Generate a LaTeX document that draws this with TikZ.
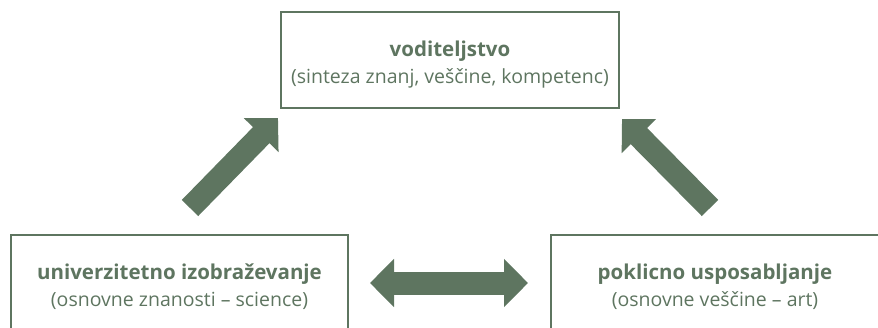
\documentclass[tikz,border=0pt]{standalone}
\usepackage{fontspec}
\setmainfont{Open Sans}
\usetikzlibrary{arrows.meta,calc,positioning}
\definecolor{sivozelena}{RGB}{94,117,96}
\tikzset{
	blok/.style={draw=sivozelena, line width=2pt, text=sivozelena, align=center,
		minimum height=96pt, inner sep=0pt,
		font=\fontsize{19.5}{27}\selectfont},
	puscica/.style={draw=sivozelena, line width=23pt, -{Triangle[length=24pt,width=47pt]}},
	dvojna puscica/.style={draw=sivozelena, line width=23pt,
		{Triangle[length=24pt,width=47pt]}-{Triangle[length=24pt,width=47pt]}}
}
\newcommand{\naslov}[2]{{\fontsize{20.5}{27}\selectfont\bfseries\rule{0pt}{24pt}#1}\\#2}

\begin{document}
\begin{tikzpicture}[x=1pt,y=-1pt]
  \useasboundingbox (0,0) rectangle (878,327);
  \clip (0,0) rectangle (878,327);
  \node [blok, minimum width=338pt] (vod) at (450,60)
    {\naslov{voditeljstvo}{(sinteza znanj, veščine, kompetenc)}};
  \node [blok, minimum width=337pt] (uni) at (179.5,283)
    {\naslov{univerzitetno izobraževanje}{(osnovne znanosti – science)}};
  \node [blok, minimum width=328pt] (pok) at (715,283)
    {\naslov{poklicno usposabljanje}{(osnovne veščine – art)}};
  % puscice
  \coordinate (uniRep) at ($(uni.north)+(10.5,-26)$);
  \coordinate (vodL) at ($(vod.south west)+(-2,9)$);
  \coordinate (pokRep) at ($(pok.north)+(-5,-26)$);
  \coordinate (vodD) at ($(vod.south east)+(2,10)$);
  \draw [puscica] (uniRep) -- (vodL);
  \draw [puscica] (pokRep) -- (vodD);
  \draw [dvojna puscica] ($(uni.east)+(21,0)$) -- ($(pok.west)+(-22,0)$);
\end{tikzpicture}
\end{document}
